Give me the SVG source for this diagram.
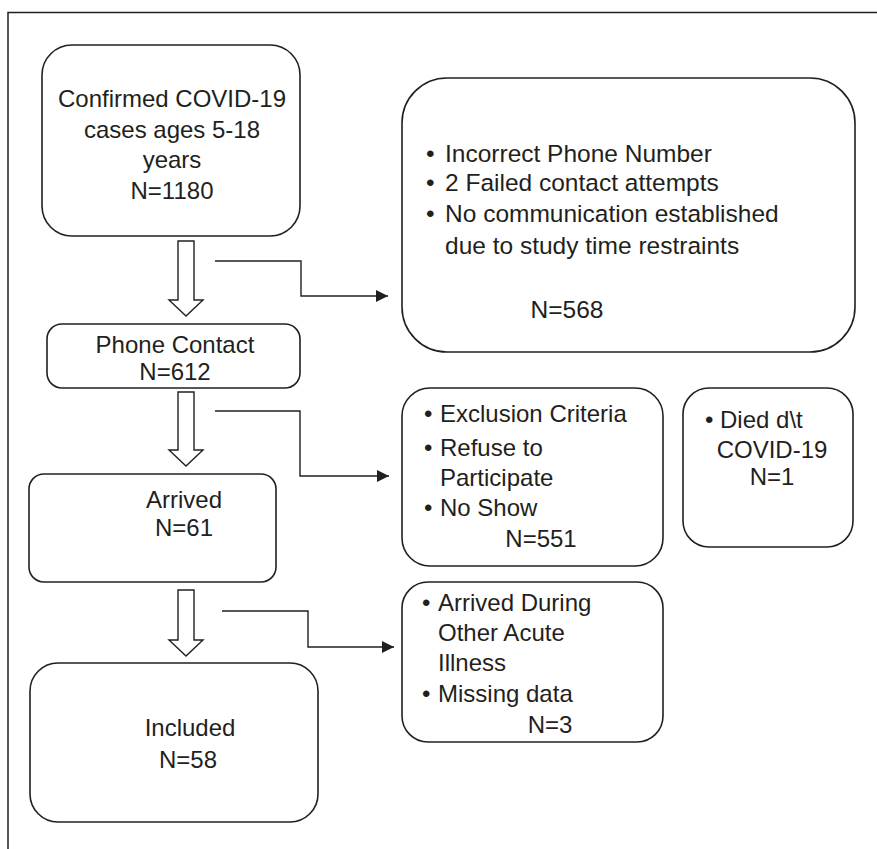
<svg xmlns="http://www.w3.org/2000/svg" width="877" height="849" viewBox="0 0 877 849">
  <style>
    .box { fill: #ffffff; stroke: #231f20; stroke-width: 1.6; }
    .t { font-family: "Liberation Sans", Arial, sans-serif; font-size: 24px; fill: #231f20; }
    .big { font-size: 24.5px; }
    .c { text-anchor: middle; }
    .blk { fill: #ffffff; stroke: #231f20; stroke-width: 1.4; stroke-linejoin: miter; }
    .con { fill: none; stroke: #231f20; stroke-width: 1.4; }
    .frame { fill: none; stroke: #231f20; stroke-width: 1.5; }
  </style>
  <defs>
    <marker id="ah" viewBox="0 0 10 10" refX="10" refY="5" markerWidth="14" markerHeight="12" markerUnits="userSpaceOnUse" orient="auto">
      <path d="M0,0 L10,5 L0,10 z" fill="#231f20"/>
    </marker>
  </defs>
  <rect width="877" height="849" fill="#ffffff"/>
  <path class="frame" d="M8,849 L8,12.5 L877,12.5"/>

  <g id="confirmed">
    <rect class="box" x="42" y="45" width="258" height="191" rx="30" ry="30"/>
    <text class="t c" x="172" y="107">Confirmed COVID-19</text>
    <text class="t c" x="172" y="138">cases ages 5-18</text>
    <text class="t c" x="172" y="168">years</text>
    <text class="t c" x="172" y="199">N=1180</text>
  </g>

  <g id="phone">
    <rect class="box" x="47" y="324" width="253" height="64" rx="15" ry="15"/>
    <text class="t c" x="175" y="353">Phone Contact</text>
    <text class="t c" x="175" y="380">N=612</text>
  </g>

  <g id="arrived">
    <rect class="box" x="29" y="474" width="247" height="108" rx="15" ry="15"/>
    <text class="t c" x="184" y="508">Arrived</text>
    <text class="t c" x="184" y="536">N=61</text>
  </g>

  <g id="included">
    <rect class="box" x="30" y="663" width="288" height="159" rx="28" ry="28"/>
    <text class="t c" x="190" y="736">Included</text>
    <text class="t c" x="188" y="768">N=58</text>
  </g>

  <g id="excl568">
    <rect class="box" x="402" y="78" width="453" height="274" rx="45" ry="45"/>
    <text class="t big" x="426" y="162">•</text>
    <text class="t big" x="445" y="162">Incorrect Phone Number</text>
    <text class="t big" x="426" y="191">•</text>
    <text class="t big" x="445" y="191">2 Failed contact attempts</text>
    <text class="t big" x="426" y="222">•</text>
    <text class="t big" x="445" y="222">No communication established</text>
    <text class="t big" x="445" y="254">due to study time restraints</text>
    <text class="t big c" x="567" y="318">N=568</text>
  </g>

  <g id="excl551">
    <rect class="box" x="402" y="388" width="261" height="178" rx="28" ry="28"/>
    <text class="t" x="424" y="422">•</text>
    <text class="t" x="440" y="422">Exclusion Criteria</text>
    <text class="t" x="424" y="456">•</text>
    <text class="t" x="440" y="456">Refuse to</text>
    <text class="t" x="440" y="486">Participate</text>
    <text class="t" x="424" y="516">•</text>
    <text class="t" x="440" y="516">No Show</text>
    <text class="t c" x="541" y="547">N=551</text>
  </g>

  <g id="died">
    <rect class="box" x="683" y="388" width="170" height="159" rx="26" ry="26"/>
    <text class="t" x="705" y="428">•</text>
    <text class="t" x="720" y="428">Died d\t</text>
    <text class="t c" x="772" y="458">COVID-19</text>
    <text class="t c" x="772" y="485">N=1</text>
  </g>

  <g id="excl3">
    <rect class="box" x="402" y="582" width="261" height="160" rx="26" ry="26"/>
    <text class="t" x="422" y="611">•</text>
    <text class="t" x="438" y="611">Arrived During</text>
    <text class="t" x="438" y="641">Other Acute</text>
    <text class="t" x="438" y="671">Illness</text>
    <text class="t" x="422" y="702">•</text>
    <text class="t" x="438" y="702">Missing data</text>
    <text class="t c" x="550" y="733">N=3</text>
  </g>

  <g id="connectors">
    <path class="blk" d="M178,241 L194,241 L194,300 L203,300 L186,316 L169,300 L178,300 Z"/>
    <path class="blk" d="M178,392 L194,392 L194,450 L203,450 L186,466 L169,450 L178,450 Z"/>
    <path class="blk" d="M178,590 L194,590 L194,640 L203,640 L186,656 L169,640 L178,640 Z"/>
    <path class="con" d="M215,261 L301,261 L301,296 L388,296" marker-end="url(#ah)"/>
    <path class="con" d="M215,411 L300,411 L300,476 L389,476" marker-end="url(#ah)"/>
    <path class="con" d="M222,611 L308,611 L308,647 L394,647" marker-end="url(#ah)"/>
  </g>
</svg>
